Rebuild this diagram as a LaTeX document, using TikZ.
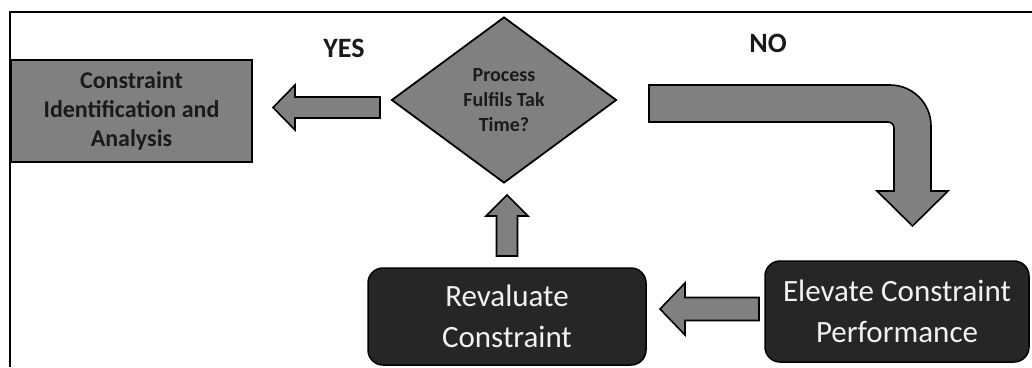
\documentclass[tikz,border=0pt]{standalone}
\usepackage{fontspec}
\setmainfont{Carlito}
\usetikzlibrary{shapes.geometric}
\definecolor{midgray}{HTML}{808080}
\definecolor{darkfill}{HTML}{262626}
\definecolor{inkdark}{HTML}{1A1A1A}
\definecolor{lighttext}{HTML}{F2F2F2}

\begin{document}
\begin{tikzpicture}[x=1pt,y=-1pt,
  graybox/.style={draw=black, line width=1.8pt, fill=midgray, inner sep=0pt,
    text=inkdark, align=center, font=\bfseries\fontsize{24}{29}\selectfont},
  decision/.style={diamond, draw=black, line width=1.8pt, fill=midgray, inner sep=0pt,
    minimum width=225pt, minimum height=166pt, text=inkdark, align=center,
    font=\bfseries\fontsize{20}{25}\selectfont},
  darkbox/.style={draw=black, line width=1.5pt, fill=darkfill, rounded corners=15pt,
    inner sep=0pt, text=lighttext, align=center, font=\fontsize{31}{41}\selectfont},
  blockarrow/.style={draw=black, line width=1.6pt, fill=midgray, line join=miter},
  answer/.style={font=\bfseries\fontsize{28}{32}\selectfont, text=inkdark}
]
\useasboundingbox (0,0) rectangle (1032,367);

% outer frame (top and left edges)
\draw[line width=1.5pt] (10,367) -- (10,12) -- (1032,12);

% nodes
\node[graybox, minimum width=241pt, minimum height=102pt] (analyse) at (131.5,111)
  {Constraint\\Identification and\\Analysis};
\node[decision] (decide) at (504,100) {Process\\Fulfils Tak\\Time?};
\node[darkbox, minimum width=278pt, minimum height=97pt] (revalue) at (507,316.5)
  {Revaluate\\Constraint};
\node[darkbox, minimum width=264pt, minimum height=101pt] (elevate) at (897,311.5)
  {Elevate Constraint\\Performance};

% answer labels
\node[answer] (yes) at (344,48) {YES};
\node[answer] (no) at (768,43) {NO};

% YES: block arrow pointing left
\draw[blockarrow] (380,97) -- (295,97) -- (295,85) -- (273,107.5) -- (295,130)
  -- (295,118) -- (380,118) -- cycle;

% NO: bent block arrow turning down (y axis points down, so angles run clockwise)
\draw[blockarrow] (649,85) -- (890,85) arc[start angle=-90, end angle=0, radius=41]
  -- (931,191) -- (948,191) -- (912.5,226) -- (877,191) -- (894,191) -- (894,128)
  arc[start angle=0, end angle=-90, radius=6] -- (649,122) -- cycle;

% from elevate to revaluate: block arrow pointing left
\draw[blockarrow] (759,297.5) -- (685,297.5) -- (685,283) -- (660,309) -- (685,335)
  -- (685,320.5) -- (759,320.5) -- cycle;

% from revaluate back to the decision: block arrow pointing up
\draw[blockarrow] (496.5,256) -- (496.5,216) -- (486,216) -- (507,195) -- (528,216)
  -- (517.5,216) -- (517.5,256) -- cycle;
\end{tikzpicture}
\end{document}
